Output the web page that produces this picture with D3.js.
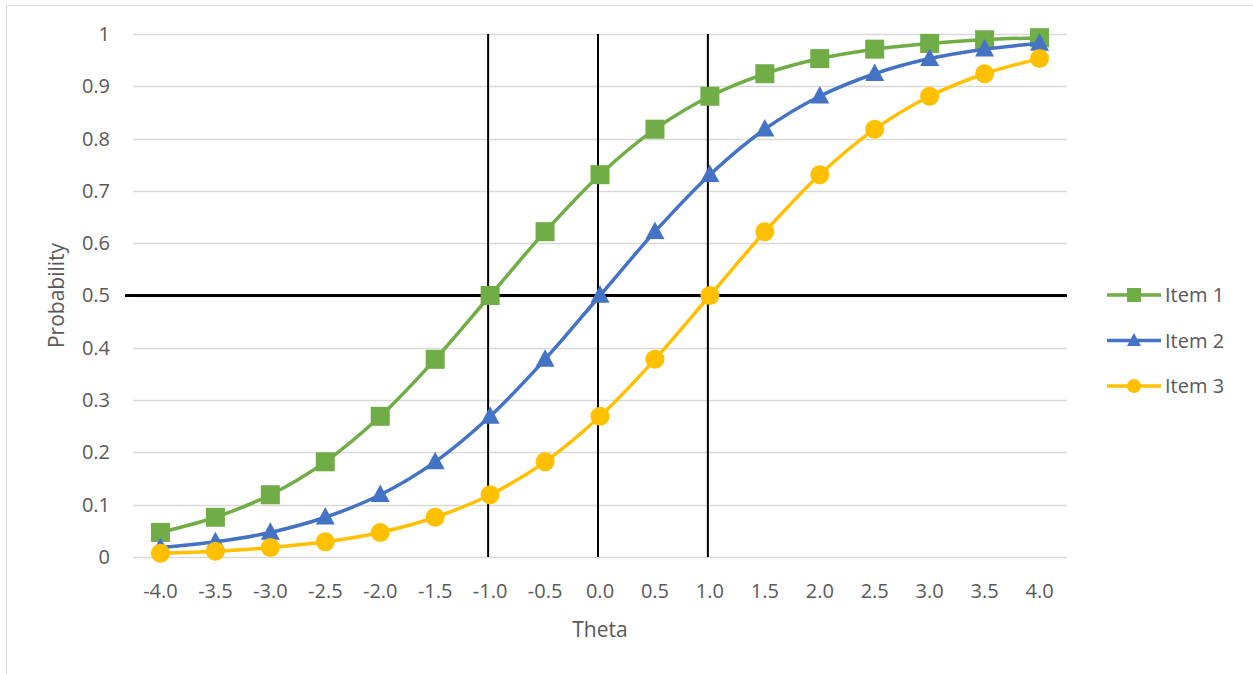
<!DOCTYPE html>
<html>
<head>
<meta charset="utf-8">
<script src="https://cdn.jsdelivr.net/npm/d3@7"></script>
<style>
  body { margin: 0; background: #fff; }
  svg { display: block; }
  text { font-family: "Open Sans", "Liberation Sans", sans-serif; fill: #595959; }
</style>
</head>
<body>
<div id="chart-area"></div>
<script>
// data
const thetaLabels = ["-4.0", "-3.5", "-3.0", "-2.5", "-2.0", "-1.5", "-1.0", "-0.5", "0.0", "0.5", "1.0", "1.5", "2.0", "2.5", "3.0", "3.5", "4.0"];
const item1 = [0.047, 0.076, 0.119, 0.182, 0.269, 0.378, 0.500, 0.622, 0.731, 0.818, 0.881, 0.924, 0.953, 0.971, 0.982, 0.989, 0.993];
const item2 = [0.018, 0.029, 0.047, 0.076, 0.119, 0.182, 0.269, 0.378, 0.500, 0.622, 0.731, 0.818, 0.881, 0.924, 0.953, 0.971, 0.982];
const item3 = [0.007, 0.011, 0.018, 0.029, 0.047, 0.076, 0.119, 0.182, 0.269, 0.378, 0.500, 0.622, 0.731, 0.818, 0.881, 0.924, 0.953];
const seriesNames = ["Item 1", "Item 2", "Item 3"];
const yTicks = [0, 0.1, 0.2, 0.3, 0.4, 0.5, 0.6, 0.7, 0.8, 0.9, 1];
const refTheta = ["-1.0", "0.0", "1.0"];
const refProb = 0.5;

const colors = ["#70AD47", "#4472C4", "#FFC000"];
const shapes = ["square", "triangle", "circle"];
const series = [item1, item2, item3];

const W = 1253, H = 674;
const margin = { left: 133, right: 186, top: 34, bottom: 117 };
const width = W - margin.left - margin.right;
const height = H - margin.top - margin.bottom;

const svg = d3.select("#chart-area").append("svg")
	.attr("width", W)
	.attr("height", H);

// chart area border (continues past the right/bottom edge)
svg.append("rect")
	.attr("x", 6.5).attr("y", 5.5)
	.attr("width", 1400).attr("height", 800)
	.attr("fill", "none")
	.attr("stroke", "#d9d9d9");

const g = svg.append("g")
	.attr("transform", `translate(${margin.left}, ${margin.top})`);

const x = d3.scaleBand().domain(thetaLabels).range([0, width]);
const cx = d => x(d) + x.bandwidth() / 2;
const y = d3.scaleLinear().domain([0, 1]).range([height, 0]);

// gridlines
g.append("g")
	.selectAll("line")
	.data(yTicks)
	.enter().append("line")
	.attr("x1", 0).attr("x2", width)
	.attr("y1", d => Math.round(y(d)) + 0.5)
	.attr("y2", d => Math.round(y(d)) + 0.5)
	.attr("stroke", "#d9d9d9")
	.attr("stroke-width", 1.3);

// y axis labels
const yAxisCall = d3.axisLeft(y).tickValues(yTicks).tickSize(0).tickPadding(23).tickFormat(d => d3.format("")(+d.toFixed(1)));
const yAxis = g.append("g").attr("class", "y-axis").call(yAxisCall);
yAxis.select(".domain").remove();
yAxis.selectAll("text")
	.attr("font-size", "20px")
	.attr("fill", "#595959")
	.style("font-family", "'Open Sans', sans-serif");

// x axis labels
const xAxisCall = d3.axisBottom(x).tickSize(0).tickPadding(27);
const xAxis = g.append("g").attr("class", "x-axis")
	.attr("transform", `translate(0, ${height})`)
	.call(xAxisCall);
xAxis.select(".domain").remove();
xAxis.selectAll("text")
	.attr("font-size", "20px")
	.attr("fill", "#595959")
	.style("font-family", "'Open Sans', sans-serif");

// reference lines
g.selectAll(".ref-v")
	.data(refTheta)
	.enter().append("line")
	.attr("class", "ref-v")
	.attr("x1", d => cx(d) - 2).attr("x2", d => cx(d) - 2)
	.attr("y1", y(1)).attr("y2", y(0))
	.attr("stroke", "#000")
	.attr("stroke-width", 2);

g.append("line")
	.attr("x1", -8).attr("x2", width)
	.attr("y1", y(refProb)).attr("y2", y(refProb))
	.attr("stroke", "#000")
	.attr("stroke-width", 3);

function marker(sel, shape, size, color) {
	if (shape === "square") {
		sel.append("rect")
			.attr("x", -size / 2).attr("y", -size / 2)
			.attr("width", size).attr("height", size)
			.attr("fill", color);
	} else if (shape === "triangle") {
		const h = size * 0.92;
		sel.append("path")
			.attr("d", `M0,${-h * 0.58}L${size / 2},${h * 0.42}L${-size / 2},${h * 0.42}Z`)
			.attr("fill", color);
	} else {
		sel.append("circle").attr("r", size / 2).attr("fill", color);
	}
}

const line = d3.line()
	.x((d, i) => cx(thetaLabels[i]))
	.y(d => y(d))
	.curve(d3.curveCatmullRom.alpha(0.5));

series.forEach((vals, si) => {
	const sg = g.append("g").attr("class", "series");
	sg.append("path")
		.datum(vals)
		.attr("d", line)
		.attr("fill", "none")
		.attr("stroke", colors[si])
		.attr("stroke-width", 3.5);
	sg.selectAll(".pt")
		.data(vals)
		.enter().append("g")
		.attr("class", "pt")
		.attr("transform", (d, i) => `translate(${cx(thetaLabels[i])}, ${y(d)})`)
		.each(function () { marker(d3.select(this), shapes[si], 19, colors[si]); });
});

// axis titles
svg.append("text")
	.attr("x", margin.left + width / 2)
	.attr("y", 637)
	.attr("font-size", "21px")
	.attr("text-anchor", "middle")
	.text("Theta");

svg.append("text")
	.attr("transform", `translate(64, ${margin.top + height / 2}) rotate(-90)`)
	.attr("font-size", "21px")
	.attr("text-anchor", "middle")
	.text("Probability");

// legend
const legend = svg.append("g").attr("transform", "translate(1107, 295)");
seriesNames.forEach((name, i) => {
	const lg = legend.append("g").attr("transform", `translate(0, ${i * 45.5})`);
	lg.append("line")
		.attr("x1", 0).attr("x2", 54)
		.attr("stroke", colors[i])
		.attr("stroke-width", 3.5);
	const m = lg.append("g").attr("transform", "translate(27, 0)");
	marker(m, shapes[i], 14, colors[i]);
	lg.append("text")
		.attr("x", 58)
		.attr("dy", "0.35em")
		.attr("font-size", "20px")
		.text(name);
});
</script>
</body>
</html>
